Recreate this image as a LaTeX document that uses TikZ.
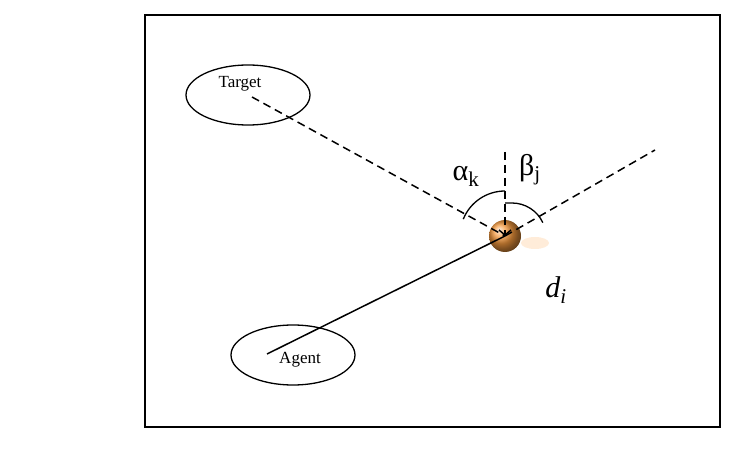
\documentclass[tikz,border=0pt]{standalone}
\usepackage{fontspec}
\setmainfont{Liberation Serif}
\usetikzlibrary{arrows.meta,shapes.geometric}
\begin{document}
\begin{tikzpicture}
        [x=1pt,y=-1pt,
         obj_style/.style={ellipse,draw=black,line width=1.3pt,minimum width=124pt,minimum height=60pt},
         text_style/.style={font=\fontsize{17}{20}\selectfont},
         ray_style/.style={draw=black,dash pattern=on 8pt off 5pt,line width=1.5pt},
         angle_style/.style={draw=black,line width=1.3pt},
         label_style/.style={font=\fontsize{30}{34}\selectfont}]
            \useasboundingbox (0,0) rectangle (740,449);
            \draw[line width=1.3pt] (145,15) rectangle (720,427);
            \node[obj_style] (target) at (248,95)  {};
            \node[text_style] (tlabel) at (240,84) {Target};
            \node[obj_style] (agent) at (293,355)  {};
            \node[text_style] (alabel) at (300,360) {Agent};
            \fill[orange!25,opacity=0.6] (535,243) ellipse (14 and 6);
            \node[circle,minimum size=32pt,inner sep=0pt,ball color=orange!80!brown!80!white] (ball) at (505,236) {};
            \coordinate (tend) at (252,97);
            \coordinate (top) at (505,152);
            \coordinate (rend) at (655,150);
            \coordinate (astart) at (267,354);
            \draw[ray_style]  (tend) -- (ball.center);
            \draw[ray_style]  (ball.center) -- (rend);
            \draw[ray_style,-{Straight Barb[length=5pt,width=12pt]}]  (top) -- (ball.center);
            \draw[line width=1.5pt]  (astart) -- (ball.center);
            \draw[angle_style] ([shift={(ball.center)}]-158:45) arc[start angle=-158,end angle=-90,radius=45];
            \draw[angle_style] (505,203) -- (512,203) arc[start angle=-90,end angle=-25,radius=34] ;
            \node[label_style] (alpha) at (466,176) {α\textsubscript{k}};
            \node[label_style] (beta) at (530,170) {β\textsubscript{j}};
            \node[label_style] (dist) at (556,290) {\textit{d}\textsubscript{\textit{i}}};
        \end{tikzpicture}
\end{document}
